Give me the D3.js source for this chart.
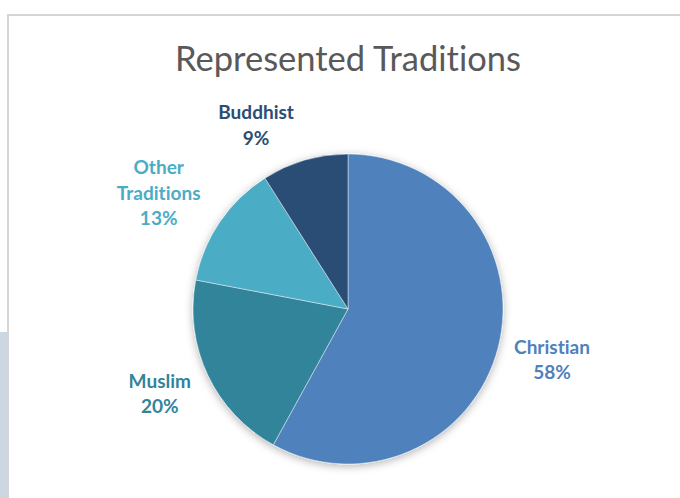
<!DOCTYPE html>
<html>
<head>
<meta charset="utf-8">
<script src="https://cdn.jsdelivr.net/npm/d3@7/dist/d3.min.js"></script>
<style>
  html, body { margin: 0; padding: 0; background: #ffffff; }
  svg { display: block; }
  text { font-variant-ligatures: none; font-feature-settings: "liga" 0, "clig" 0; }
</style>
</head>
<body>
<svg id="chart" width="680" height="498"></svg>
<script>
// Share of each tradition (percent)
const categories = ["Christian", "Muslim", "Other Traditions", "Buddhist"];
const values = [58, 20, 13, 9];
const colors = ["#4f81bd", "#31849b", "#4bacc6", "#2c4d75"];
const title = "Represented Traditions";

// label layout: small angular nudges (degrees) away from each slice's mid angle
const labelNudge = [-0.8, 1.3, -2.4, -10.2];

const W = 680, H = 498;
const cx = 348, cy = 309, R = 155;
const font = "Lato, 'Open Sans', sans-serif";

const svg = d3.select("#chart");

// page backdrop: slide edge on the left and the chart frame
svg.append("rect").attr("x", 0).attr("y", 332).attr("width", 8).attr("height", H - 332)
  .attr("fill", "#cdd7e1");
svg.append("rect").attr("x", 8).attr("y", 15).attr("width", W + 10).attr("height", H)
  .attr("fill", "#ffffff").attr("stroke", "#d6d6d6").attr("stroke-width", 2);

// scale a text element so its rendered width equals a target width
function fitSize(sel, target) {
  sel.style("font-size", "100px");
  const w = sel.node().getComputedTextLength();
  const s = 100 * target / w;
  sel.style("font-size", s + "px");
  return s;
}

// title
const t = svg.append("text")
  .attr("x", cx).attr("y", 71)
  .attr("text-anchor", "middle")
  .attr("fill", "#595959")
  .style("font-family", font)
  .text(title);
fitSize(t, 346);

// soft shadow under the pie
const defs = svg.append("defs");
const f = defs.append("filter").attr("id", "shadow")
  .attr("x", "-20%").attr("y", "-20%").attr("width", "140%").attr("height", "140%");
f.append("feDropShadow").attr("dx", 0).attr("dy", 2).attr("stdDeviation", 4)
  .attr("flood-color", "#000").attr("flood-opacity", 0.3);

const pie = d3.pie().sort(null).value(d => d.value);
const arc = d3.arc().innerRadius(0).outerRadius(R);
const data = categories.map((c, i) => ({ name: c, value: values[i], color: colors[i], nudge: labelNudge[i] }));
const arcs = pie(data);

const g = svg.append("g").attr("transform", `translate(${cx},${cy})`);
g.append("g").attr("filter", "url(#shadow)")
  .selectAll("path").data(arcs).join("path")
  .attr("d", arc)
  .attr("fill", d => d.data.color)
  .attr("stroke", "rgba(255,255,255,0.55)")
  .attr("stroke-width", 0.8);

// label font size: bold label text sized so "Christian" spans about 76px
const probe = svg.append("text").style("font-family", font).style("font-weight", "bold").text("Christian");
const fontSize = fitSize(probe, 76);
probe.remove();
const lineH = 25.5, gap = 12;

// data labels placed outside each slice
const labels = g.selectAll("g.lbl").data(arcs).join("g").attr("class", "lbl");
labels.each(function (d) {
  const lines = d.data.name === "Other Traditions"
    ? ["Other", "Traditions"] : [d.data.name];
  lines.push(d.data.value + "%");
  const txt = d3.select(this).append("text")
    .attr("text-anchor", "middle")
    .attr("fill", d.data.color)
    .style("font-family", font)
    .style("font-weight", "bold")
    .style("font-size", fontSize + "px");
  lines.forEach((l, i) => txt.append("tspan").attr("x", 0).attr("dy", i === 0 ? 0 : lineH).text(l));
  const bb = txt.node().getBBox();
  const a = (d.startAngle + d.endAngle) / 2 + d.data.nudge * Math.PI / 180;
  const ux = Math.sin(a), uy = -Math.cos(a);
  const hw = bb.width / 2, hh = (lines.length * lineH) / 2;
  const ext = hw * Math.abs(ux) + hh * Math.abs(uy);
  const dist = R + gap + ext;
  const px = ux * dist, py = uy * dist;
  // first baseline so the text block is vertically centred on (px, py)
  const firstBase = py - hh + lineH * 0.82;
  d3.select(this).attr("transform", `translate(${px},${firstBase})`);
});
</script>
</body>
</html>
